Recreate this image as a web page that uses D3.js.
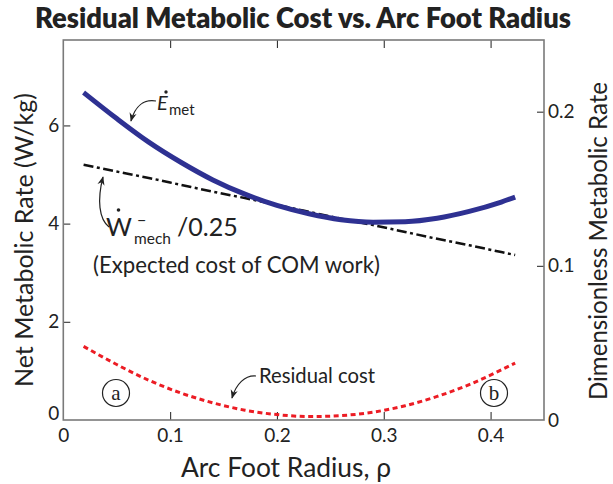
<!DOCTYPE html>
<html>
<head>
<meta charset="utf-8">
<script src="https://cdn.jsdelivr.net/npm/d3@7"></script>
<style>
  html, body { margin: 0; padding: 0; background: #fff; }
  svg { display: block; font-family: Lato, "Open Sans", sans-serif; }
</style>
</head>
<body>
<svg id="chart" width="613" height="484"></svg>
<script>
// Arc foot radius samples and the three cost curves (W/kg)
const rho       = [0.019, 0.05, 0.08, 0.11, 0.14, 0.17, 0.20, 0.23, 0.26, 0.29, 0.32, 0.35, 0.38, 0.41, 0.423];
const eMet      = [6.67, 6.14, 5.66, 5.25, 4.89, 4.60, 4.37, 4.20, 4.08, 4.03, 4.04, 4.11, 4.25, 4.44, 4.54];
const comWork   = [5.20, 5.06, 4.93, 4.79, 4.65, 4.52, 4.38, 4.24, 4.10, 3.97, 3.83, 3.69, 3.56, 3.42, 3.36];
const residual  = [1.50, 1.13, 0.81, 0.55, 0.35, 0.20, 0.11, 0.07, 0.09, 0.16, 0.29, 0.48, 0.72, 1.02, 1.16];

// Axis ticks
const xTicks      = [0, 0.1, 0.2, 0.3, 0.4];
const yLeftTicks  = [0, 2, 4, 6];
const yRightTicks = [0, 0.1, 0.2];

const svg = d3.select("#chart");
const plotL = 63.3, plotR = 544, plotT = 40, plotB = 420;

const x  = d3.scaleLinear().domain([0, 0.45]).range([plotL, plotR]);
const yL = d3.scaleLinear().domain([0, 7.74]).range([plotB, plotT]);
const yR = d3.scaleLinear().domain([0, 0.2465]).range([plotB, plotT]);

// scale a text's font so that it spans a given width
function fitText(sel, width) {
  const fs = parseFloat(sel.attr("font-size"));
  const w = sel.node().getComputedTextLength();
  sel.attr("font-size", (fs * width / w).toFixed(2));
  return sel;
}

// Title
fitText(svg.append("text")
  .attr("x", 303).attr("y", 28)
  .attr("text-anchor", "middle")
  .attr("font-weight", 800)
  .attr("font-size", 23)
  .attr("fill", "#222")
  .text("Residual Metabolic Cost vs. Arc Foot Radius"), 536);

// Axes (all ticks point inward)
const tickFont = 19;
function styleAxis(g) {
  g.select(".domain").remove();
  g.selectAll(".tick line").attr("stroke", "#333").attr("stroke-width", 1.1);
  g.selectAll(".tick text").attr("font-size", tickFont).attr("fill", "#222")
    .attr("font-family", "Lato, sans-serif");
}

const gx = svg.append("g").attr("transform", `translate(0,${plotB})`)
  .call(d3.axisBottom(x).tickValues(xTicks).tickFormat(d => d === 0 ? "0" : d3.format(".1f")(d))
    .tickSizeInner(-8).tickSizeOuter(0).tickPadding(9))
  .call(styleAxis);
gx.selectAll(".tick").filter(d => d === 0).select("line").remove();

svg.append("g").attr("transform", `translate(0,${plotT})`)
  .call(d3.axisTop(x).tickValues(xTicks.filter(d => d > 0)).tickFormat("")
    .tickSizeInner(-8).tickSizeOuter(0))
  .call(styleAxis);

const gyl = svg.append("g").attr("transform", `translate(${plotL},0)`)
  .call(d3.axisLeft(yL).tickValues(yLeftTicks).tickFormat(d3.format("d"))
    .tickSizeInner(-7).tickSizeOuter(0).tickPadding(4))
  .call(styleAxis);
gyl.selectAll(".tick").filter(d => d === 0).select("line").remove();
gyl.selectAll(".tick").filter(d => d === 0).select("text").attr("y", -7);

const gyr = svg.append("g").attr("transform", `translate(${plotR},0)`)
  .call(d3.axisRight(yR).tickValues(yRightTicks).tickFormat(d => d === 0 ? "0" : d3.format(".1f")(d))
    .tickSizeInner(-7).tickSizeOuter(0).tickPadding(4))
  .call(styleAxis);
gyr.selectAll(".tick").filter(d => d === 0).select("line").remove();

// Plot frame
svg.append("rect")
  .attr("x", plotL).attr("y", plotT)
  .attr("width", plotR - plotL).attr("height", plotB - plotT)
  .attr("fill", "none").attr("stroke", "#7a7a7a").attr("stroke-width", 1.6);

// Axis titles
fitText(svg.append("text")
  .attr("x", 286).attr("y", 477)
  .attr("text-anchor", "middle")
  .attr("font-size", 22).attr("fill", "#222")
  .text("Arc Foot Radius, ρ"), 210);

fitText(svg.append("text")
  .attr("transform", "translate(33,240) rotate(-90)")
  .attr("text-anchor", "middle")
  .attr("font-size", 22).attr("fill", "#222")
  .text("Net Metabolic Rate (W/kg)"), 294);

fitText(svg.append("text")
  .attr("transform", "translate(607,241) rotate(-90)")
  .attr("text-anchor", "middle")
  .attr("font-size", 22).attr("fill", "#222")
  .text("Dimensionless Metabolic Rate"), 318);

// Curves
const lineOf = vals => d3.line()
  .x((d, i) => x(rho[i]))
  .y(d => yL(d))
  .curve(d3.curveMonotoneX)(vals);

svg.append("path").attr("d", lineOf(residual))
  .attr("fill", "none").attr("stroke", "#ec1c24")
  .attr("stroke-width", 3).attr("stroke-dasharray", "5,3.5");

svg.append("path").attr("d", lineOf(comWork))
  .attr("fill", "none").attr("stroke", "#111")
  .attr("stroke-width", 2.5).attr("stroke-dasharray", "10,3.5,3,3.5");

svg.append("path").attr("d", lineOf(eMet))
  .attr("fill", "none").attr("stroke", "#2e3192")
  .attr("stroke-width", 5);

// Arrowhead for callouts
svg.append("defs").append("marker")
  .attr("id", "arrow").attr("viewBox", "0 0 10 10")
  .attr("refX", 9).attr("refY", 5)
  .attr("markerWidth", 9).attr("markerHeight", 9)
  .attr("markerUnits", "userSpaceOnUse")
  .attr("orient", "auto")
  .append("path").attr("d", "M0,1 L10,5 L0,9 L3,5 Z").attr("fill", "#222");

const callout = d => svg.append("path").attr("d", d)
  .attr("fill", "none").attr("stroke", "#222").attr("stroke-width", 1.2)
  .attr("marker-end", "url(#arrow)");

// E_met label
svg.append("text").attr("x", 157).attr("y", 110)
  .attr("font-size", 20).attr("font-style", "italic").attr("fill", "#222").text("E");
svg.append("circle").attr("cx", 166).attr("cy", 92).attr("r", 1.7).attr("fill", "#222");
svg.append("text").attr("x", 169).attr("y", 115)
  .attr("font-size", 15).attr("fill", "#222").text("met");
callout("M156,101 C144,99 135,106 131,121");

// W_mech / 0.25 label
svg.append("text").attr("x", 106).attr("y", 236)
  .attr("font-size", 25).attr("fill", "#222").text("W");
svg.append("circle").attr("cx", 118.5).attr("cy", 210).attr("r", 1.8).attr("fill", "#222");
svg.append("text").attr("x", 137).attr("y", 226)
  .attr("font-size", 16).attr("fill", "#222").text("−");
svg.append("text").attr("x", 134).attr("y", 244)
  .attr("font-size", 15.5).attr("fill", "#222").text("mech");
svg.append("text").attr("x", 177).attr("y", 236)
  .attr("font-size", 25).attr("fill", "#222").text("/0.25");
callout("M109,227 C99,219 97,200 103,177");

fitText(svg.append("text").attr("x", 93).attr("y", 273)
  .attr("font-size", 19).attr("fill", "#222")
  .text("(Expected cost of COM work)"), 287);

// Residual cost label
fitText(svg.append("text").attr("x", 259).attr("y", 383)
  .attr("font-size", 18).attr("fill", "#222")
  .text("Residual cost"), 116);
callout("M256,376 C245,375 236,384 232,398");

// Circled markers a and b
[["a", 116, 393], ["b", 494, 393]].forEach(([t, cx, cy]) => {
  svg.append("circle").attr("cx", cx).attr("cy", cy).attr("r", 13.5)
    .attr("fill", "none").attr("stroke", "#222").attr("stroke-width", 1.2);
  svg.append("text").attr("x", cx).attr("y", cy)
    .attr("text-anchor", "middle").attr("dy", "0.33em")
    .attr("font-family", "'Liberation Serif', serif")
    .attr("font-size", 21).attr("fill", "#222").text(t);
});
</script>
</body>
</html>
